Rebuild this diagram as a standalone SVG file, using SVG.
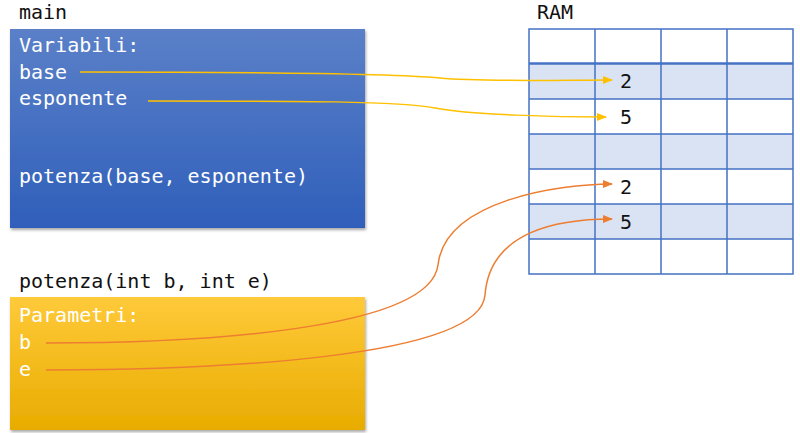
<svg xmlns="http://www.w3.org/2000/svg" width="800" height="433" viewBox="0 0 800 433">
<style>
text{font-family:"DejaVu Sans Mono","Liberation Mono",monospace;font-size:20px}
.w{fill:#fff}.k{fill:#111}
.g{stroke:#4472c4;stroke-width:1.5;fill:none}
.y{stroke:#ffc000;stroke-width:1.5;fill:none}
.o{stroke:#ed7d31;stroke-width:1.5;fill:none}
</style>
<defs>
<linearGradient id="bg" x1="0" y1="0" x2="0" y2="1"><stop offset="0" stop-color="#5b80c8"/><stop offset="1" stop-color="#2f5fba"/></linearGradient>
<linearGradient id="yg" x1="0" y1="0" x2="0" y2="1"><stop offset="0" stop-color="#ffca3a"/><stop offset="1" stop-color="#e8ac00"/></linearGradient>
<marker id="ay" viewBox="0 0 10 10" refX="9" refY="5" markerWidth="7" markerHeight="7" orient="auto"><path d="M0,1 L10,5 L0,9 z" fill="#ffc000"/></marker>
<marker id="ao" viewBox="0 0 10 10" refX="9" refY="5" markerWidth="7" markerHeight="7" orient="auto"><path d="M0,1 L10,5 L0,9 z" fill="#ed7d31"/></marker>
<filter id="sh"><feDropShadow dx="1" dy="2" stdDeviation="1.5" flood-opacity="0.35"/></filter>
</defs>
<g id="ram">
<text class="k" x="537" y="19">RAM</text>
<rect x="529" y="64" width="264" height="35" fill="#dae3f3"/>
<rect x="529" y="134" width="264" height="35" fill="#dae3f3"/>
<rect x="529" y="204" width="264" height="35" fill="#dae3f3"/>
<path class="g" d="M529,29H793V274H529Z M529,99H793 M529,134H793 M529,169H793 M529,204H793 M529,239H793 M595,29V274 M661,29V274 M727,29V274"/>
<path d="M529,63.5H793" stroke="#4472c4" stroke-width="2.5"/>
<text class="k" x="620" y="88">2</text>
<text class="k" x="620" y="124">5</text>
<text class="k" x="620" y="194">2</text>
<text class="k" x="620" y="229">5</text>
</g>
<g id="main">
<text class="k" x="19" y="19">main</text>
<rect x="10" y="29" width="355" height="199" fill="url(#bg)" filter="url(#sh)"/>
<text class="w" x="19" y="52">Variabili:</text>
<text class="w" x="19" y="79">base</text>
<text class="w" x="19" y="105">esponente</text>
<text class="w" x="19" y="183">potenza(base, esponente)</text>
</g>
<g id="potenza">
<text class="k" x="19" y="288">potenza(int b, int e)</text>
<rect x="10" y="297" width="355" height="133" fill="url(#yg)" filter="url(#sh)"/>
<text class="w" x="19" y="322">Parametri:</text>
<text class="w" x="19" y="349">b</text>
<text class="w" x="19" y="376">e</text>
</g>
<g id="connectors">
<path class="y" d="M80,72 C300,72 400,74 440,78 S560,80 612,80" marker-end="url(#ay)"/>
<path class="y" d="M148,101 C300,101 400,101 435,108 S560,117 606,117" marker-end="url(#ay)"/>
<path class="o" d="M46,343 C200,343 430,330 438,265 C445,200 560,184 612,184" marker-end="url(#ao)"/>
<path class="o" d="M46,370 C200,370 480,360 485,295 C490,230 560,219 612,219" marker-end="url(#ao)"/>
</g>
</svg>
